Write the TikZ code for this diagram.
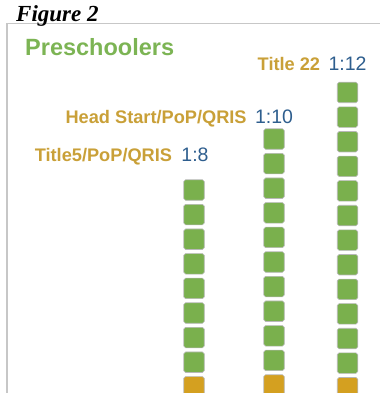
\documentclass[tikz,border=0pt]{standalone}
\usepackage{fontspec}
\setmainfont{Liberation Sans}
\newfontfamily\capfont{Liberation Serif}
\usetikzlibrary{positioning}

\definecolor{kidgreen}{RGB}{122,176,77}
\definecolor{staffgold}{RGB}{212,160,32}
\definecolor{progtext}{RGB}{201,160,56}
\definecolor{ratioblue}{RGB}{46,94,142}
\definecolor{headgreen}{RGB}{124,180,84}

\begin{document}
\begin{tikzpicture}[
        x=1pt, y=-1pt,
        sq/.style={rectangle, draw=black!28, line width=0.6pt, rounded corners=1.8pt, fill=kidgreen, minimum size=20.5pt, inner sep=0pt},
        adult/.style={sq, fill=staffgold},
        prog/.style={font=\bfseries\fontsize{18.2}{20}\selectfont, text=progtext, inner sep=0pt, anchor=base east},
        ratio/.style={font=\fontsize{19.5}{21}\selectfont, text=ratioblue, inner sep=0pt, anchor=base},
        frame/.style={draw=black!22, line width=1.6pt},
    ]
    \clip (0,0) rectangle (380,393);
    \draw[frame] (7,393) |- (380,23.5);
    \node[font=\capfont\bfseries\itshape\fontsize{23}{25}\selectfont, anchor=base west, inner sep=0pt] (fig) at (16,22) {Figure 2};
    \node[font=\bfseries\fontsize{23.5}{26}\selectfont, text=headgreen, anchor=base west, inner sep=0pt] (head) at (25,55.5) {Preschoolers};

    % columns of children, one adult at the foot
    \foreach \col/\x/\y/\n in {a/194/190/8, b/274/139/10, c/347.5/92.5/12} {
        \foreach \i in {1,...,\n}
            \node[sq] (\col\i) at (\x, {\y+(\i-1)*24.6}) {};
        \node[adult] (\col0) at (\x, {\y+\n*24.6}) {};
    }

    \node[ratio] (r8) at (195,161) {1:8};
    \node[ratio] (r10) at (274,124) {1:10};
    \node[ratio] (r12) at (347.5,71) {1:12};

    \node[prog] (t5) at ([xshift=-9pt]r8.base west) {Title5/PoP/QRIS};
    \node[prog] (hs) at ([xshift=-8pt]r10.base west) {Head Start/PoP/QRIS};
    \node[prog] (t22) at ([xshift=-8pt]r12.base west) {Title 22};
\end{tikzpicture}
\end{document}
